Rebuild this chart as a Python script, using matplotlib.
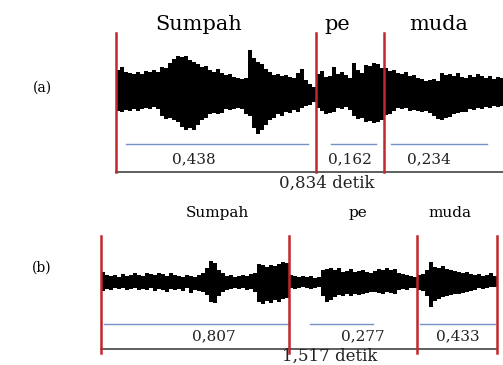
import numpy as np
import matplotlib
matplotlib.use("Agg")
import matplotlib.pyplot as plt

# ---------------------------------------------------------------------------
# data
# ---------------------------------------------------------------------------
words = ["Sumpah", "pe", "muda"]

dur_a = [0.438, 0.162, 0.234]
total_a = 0.834
dur_b = [0.807, 0.277, 0.433]
total_b = 1.517

# waveform envelopes (upper / lower amplitude), one value per 4 px column
a_top = [
    [24, 27, 22, 21, 20, 22, 20, 23, 22, 24, 22, 27, 26, 31, 35, 38, 37, 38,
     34, 32, 30, 27, 28, 24, 22, 25, 21, 19, 20, 17, 16, 15, 16, 44, 36, 32,
     30, 25, 22, 19, 20, 18, 19, 17, 16, 21, 25, 14, 10, 7],
    [20, 23, 17, 18, 27, 20, 22, 19, 16, 31, 24, 21, 29, 28, 31, 30, 26],
    [26, 23, 24, 21, 20, 22, 18, 19, 16, 15, 13, 14, 15, 13, 21, 19, 20, 18,
     21, 17, 16, 19, 17, 20, 18, 16, 18, 15, 17, 16, 15],
]
a_bot = [
    [17, 18, 16, 17, 15, 17, 15, 14, 15, 13, 15, 22, 25, 24, 26, 28, 33, 36,
     34, 36, 31, 26, 24, 20, 19, 20, 19, 15, 16, 15, 14, 15, 20, 22, 34, 40,
     36, 31, 26, 24, 20, 22, 18, 19, 16, 18, 14, 12, 11, 8],
    [14, 17, 20, 19, 18, 14, 15, 13, 16, 22, 25, 24, 28, 27, 29, 28, 26],
    [21, 20, 17, 14, 15, 14, 17, 16, 17, 18, 17, 19, 22, 25, 26, 24, 23, 20,
     19, 18, 18, 15, 16, 14, 15, 13, 14, 12, 13, 12, 12],
]
b_top = [
    [10, 7, 6, 7, 5, 8, 6, 7, 9, 7, 6, 9, 8, 7, 9, 8, 6, 9, 7, 6, 5, 7, 6, 5,
     7, 9, 14, 21, 19, 12, 9, 6, 7, 5, 6, 7, 6, 8, 9, 18, 17, 15, 17, 16, 18,
     20, 19],
    [7, 6, 5, 6, 5, 6, 4, 5, 12, 13, 14, 12, 14, 10, 11, 13, 10, 11, 12, 10,
     9, 11, 13, 12, 14, 12, 13, 9, 8, 7, 6, 5],
    [7, 8, 12, 20, 15, 14, 16, 13, 12, 11, 10, 9, 10, 8, 7, 8, 6, 7, 9, 6],
]
b_bot = [
    [9, 7, 8, 6, 7, 6, 8, 7, 6, 8, 7, 8, 6, 9, 7, 8, 10, 7, 8, 7, 9, 6, 11, 8,
     9, 10, 13, 20, 21, 14, 10, 8, 7, 6, 7, 6, 8, 7, 10, 20, 22, 19, 21, 18,
     20, 17, 16],
    [6, 7, 6, 5, 6, 7, 6, 5, 14, 20, 18, 15, 13, 14, 12, 14, 12, 13, 12, 11,
     10, 10, 11, 12, 10, 11, 12, 8, 7, 8, 6, 6],
    [8, 9, 14, 25, 19, 17, 15, 14, 13, 12, 12, 11, 10, 9, 8, 6, 7, 6, 5, 5],
]

# ---------------------------------------------------------------------------
# layout (pixel coordinates of the figure)
# ---------------------------------------------------------------------------
W, H = 503, 365
RED = "#c0282c"
BLUE = "#7593c6"
SERIF = "DejaVu Serif"

panels = [
    dict(tag="(a)", tag_xy=(42, 88), top=a_top, bot=a_bot, dur=dur_a, total=total_a,
         x0=116, step=4, yc=94, red=(33, 172), blue_y=144, base_y=172,
         blue_in=[(10, 8), (15, 8), (7, 16)], word_x=[199, 337, 439], word_y=30,
         word_fs=15, num_x=[194, 350, 429], num_y=163, tot_x=327, tot_y=188,
         end_x=W),
    dict(tag="(b)", tag_xy=(42, 268), top=b_top, bot=b_bot, dur=dur_b, total=total_b,
         x0=101, step=4, yc=282, red=(236, 353), blue_y=324, base_y=349,
         blue_in=[(3, 0), (21, 44), (3, 2)], word_x=[217, 358, 450], word_y=217,
         word_fs=11, num_x=[214, 363, 458], num_y=340, tot_x=330, tot_y=361,
         end_x=None),
]


def fmt(v):
    return f"{v:.3f}".replace(".", ",")


fig = plt.figure(figsize=(W / 100, H / 100), dpi=100)
ax = fig.add_axes([0, 0, 1, 1])
ax.set_xlim(0, W)
ax.set_ylim(H, 0)
ax.axis("off")

for p in panels:
    x0, step, yc = p["x0"], p["step"], p["yc"]
    bounds = [x0]
    for i, (tp, bt) in enumerate(zip(p["top"], p["bot"])):
        start = bounds[-1]
        n = len(tp)
        edges = start + step * np.arange(n + 1)
        up = yc - np.append(tp, tp[-1])
        dn = yc + np.append(bt, bt[-1])
        ax.fill_between(edges, up, dn, step="post", color="black", lw=0)
        bounds.append(start + step * n)

    right = p["end_x"] if p["end_x"] is not None else bounds[-1]

    # segment boundaries
    for b in bounds:
        if b < W:
            ax.plot([b, b], p["red"], color=RED, lw=1.8, zorder=3)

    # blue duration lines
    for i in range(len(p["dur"])):
        l = bounds[i] + p["blue_in"][i][0]
        r = min(bounds[i + 1], W) - p["blue_in"][i][1]
        ax.plot([l, r], [p["blue_y"]] * 2, color=BLUE, lw=1.0)

    # total line
    ax.plot([bounds[0], right], [p["base_y"]] * 2, color="#333333", lw=1.1)

    for i, w in enumerate(words):
        ax.text(p["word_x"][i], p["word_y"], w, ha="center", va="baseline",
                family=SERIF, fontsize=p["word_fs"])
        ax.text(p["num_x"][i], p["num_y"], fmt(p["dur"][i]), ha="center",
                va="baseline", family=SERIF, fontsize=11, color="#222222")

    ax.text(p["tot_x"], p["tot_y"], fmt(p["total"]) + " detik", ha="center",
            va="baseline", family=SERIF, fontsize=12, color="#222222")
    ax.text(*p["tag_xy"], p["tag"], ha="center", va="center", family=SERIF,
            fontsize=10)

fig.savefig("out.png", dpi=100)
